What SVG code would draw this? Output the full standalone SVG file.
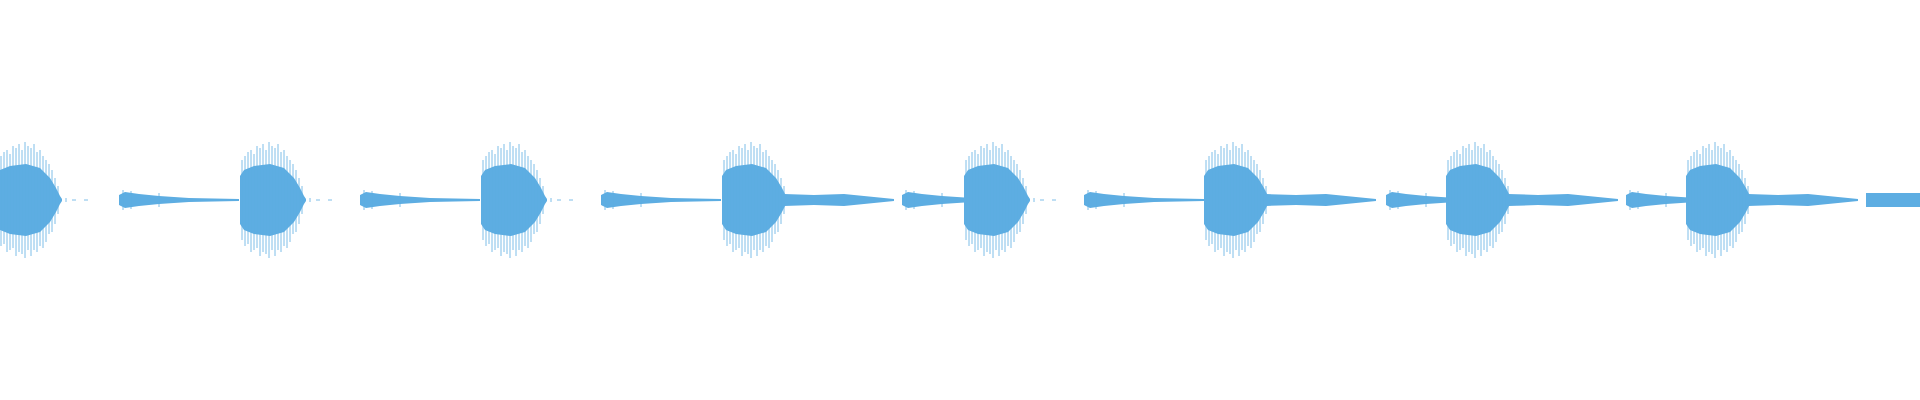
<svg xmlns="http://www.w3.org/2000/svg" width="1920" height="400" viewBox="0 0 1920 400">
<style>.w{fill:#5dade2}.s{stroke:#5dade2;stroke-width:0.8;fill:none}</style>
<defs>
<g id="burst">
<path class="w" d="M0,-24 L4,-30 L14,-34 L30,-36 L44,-32 L54,-22 L60,-12 L64,-4 L66,-1 L66,1 L64,4 L60,12 L54,22 L44,32 L30,36 L14,34 L4,30 L0,24 Z"/>
<path class="s" d="M2,-40V40M5,-44V46M8,-48V44M11,-50V52M14,-46V50M17,-54V48M20,-52V56M23,-56V52M26,-50V54M29,-58V58M32,-54V50M35,-52V56M38,-56V50M41,-48V52M44,-50V46M47,-44V48M50,-40V42M53,-36V34M56,-30V32M59,-22V24M62,-14V14M70,-2V2M76,0H80M88,0H92"/>
</g>
<g id="quiet">
<path class="w" d="M0,-5 L6,-8 L20,-6 L40,-4 L70,-2 L120,-1 L120,1 L70,2 L40,4 L20,6 L6,8 L0,5 Z"/>
<path class="s" d="M4,-10V10M12,-9V9M40,-7V7"/>
</g>
<g id="mid">
<path class="w" d="M0,-6 L30,-5 L60,-6 L90,-3 L110,-1 L110,1 L90,3 L60,6 L30,5 L0,6 Z"/>
</g>
</defs>
<g transform="translate(0,200)">
<use href="#burst" x="-4"/>
<use href="#quiet" x="119"/>
<use href="#burst" x="240"/>
<use href="#quiet" x="360"/>
<use href="#burst" x="481"/>
<use href="#quiet" x="601"/>
<use href="#burst" x="722"/>
<use href="#mid" x="784"/>
<use href="#quiet" x="902"/>
<use href="#burst" x="964"/>
<use href="#quiet" x="1084"/>
<use href="#burst" x="1204"/>
<use href="#mid" x="1266"/>
<use href="#quiet" x="1386"/>
<use href="#burst" x="1446"/>
<use href="#mid" x="1508"/>
<use href="#quiet" x="1626"/>
<use href="#burst" x="1686"/>
<use href="#mid" x="1748"/>
<path class="w" d="M1866,-7 L1920,-7 L1920,7 L1866,7 Z"/>
</g>
</svg>
